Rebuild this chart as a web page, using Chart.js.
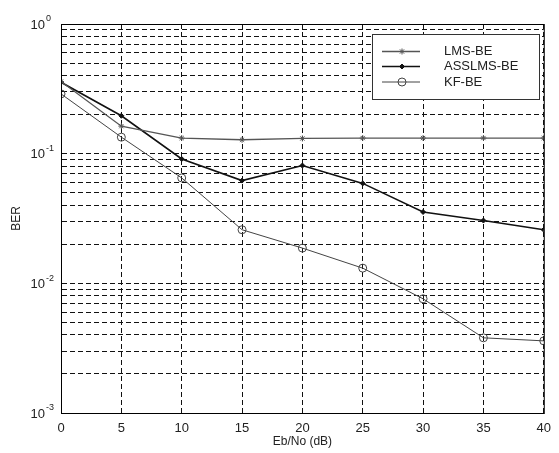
<!DOCTYPE html>
<html>
<head>
<meta charset="utf-8">
<script src="https://cdn.jsdelivr.net/npm/chart.js@4"></script>
<style>
  html, body { margin: 0; padding: 0; background: #fff; }
  #wrap { width: 559px; height: 453px; }
</style>
</head>
<body>
<div id="wrap"><canvas id="grafico"></canvas></div>
<script>
const ebNo = [0, 5, 10, 15, 20, 25, 30, 35, 40];
const lmsBe = [0.36, 0.163, 0.132, 0.128, 0.131, 0.132, 0.132, 0.132, 0.132];
const asslmsBe = [0.355, 0.196, 0.091, 0.062, 0.081, 0.059, 0.0355, 0.0305, 0.0259];
const kfBe = [0.289, 0.134, 0.065, 0.0259, 0.0187, 0.0131, 0.0076, 0.0038, 0.0036];
const nombres = ['LMS-BE', 'ASSLMS-BE', 'KF-BE'];
const xTicks = [0, 5, 10, 15, 20, 25, 30, 35, 40];
const decadas = [-3, -2, -1, 0];

const fuente = '"Liberation Sans", Arial, sans-serif';

// ticks del eje y: 1..9 por cada decada
const yTicks = [];
decadas.forEach(d => {
  if (d === 0) { yTicks.push(1); return; }
  for (let m = 1; m <= 9; m++) yTicks.push(m * Math.pow(10, d));
});

const toPts = (arr) => arr.map((v, i) => ({ x: ebNo[i], y: v }));

const cajaPlugin = {
  id: 'caja',
  afterDraw(chart) {
    const { ctx, chartArea: a } = chart;
    ctx.save();
    ctx.strokeStyle = '#000';
    ctx.lineWidth = 1;
    ctx.strokeRect(a.left + 0.5, a.top + 0.5, a.right - a.left, a.bottom - a.top);

    // etiquetas 10^n del eje y
    const ys = chart.scales.y;
    ctx.fillStyle = '#222';
    ctx.textBaseline = 'middle';
    decadas.forEach(d => {
      const py = ys.getPixelForValue(Math.pow(10, d));
      const exp = d === 0 ? '0' : String(d);
      ctx.font = '9px ' + fuente;
      ctx.textAlign = 'left';
      const expX = 46;
      ctx.fillText(exp, expX, py - 5);
      ctx.font = '13px ' + fuente;
      ctx.textAlign = 'right';
      ctx.fillText('10', expX - 1, py + 1);
    });

    // leyenda
    const lx = 372, ly = 34, lw = 167, lh = 65;
    ctx.fillStyle = '#fff';
    ctx.fillRect(lx, ly, lw, lh);
    ctx.strokeStyle = '#333';
    ctx.strokeRect(lx + 0.5, ly + 0.5, lw, lh);
    const filas = [51.5, 66.5, 82];
    chart.data.datasets.forEach((ds, i) => {
      const y = filas[i];
      ctx.strokeStyle = ds.borderColor;
      ctx.fillStyle = ds.backgroundColor;
      ctx.lineWidth = ds.borderWidth;
      ctx.setLineDash([]);
      ctx.beginPath();
      ctx.moveTo(382, y);
      ctx.lineTo(420, y);
      ctx.stroke();
      ctx.lineWidth = 1;
      Chart.helpers.drawPoint(ctx, {
        pointStyle: ds.pointStyle,
        radius: ds.pointRadius,
        borderWidth: 1,
        rotation: 0
      }, 402, y);
      ctx.fillStyle = '#222';
      ctx.font = '13px ' + fuente;
      ctx.textAlign = 'left';
      ctx.textBaseline = 'middle';
      ctx.fillText(ds.label, 444, y);
    });
    ctx.restore();
  }
};

new Chart(document.getElementById('grafico'), {
  type: 'line',
  data: {
    datasets: [
      {
        label: nombres[0],
        data: toPts(lmsBe),
        borderColor: '#555',
        backgroundColor: '#555',
        borderWidth: 1.3,
        pointStyle: 'star',
        pointRadius: 3,
        pointBorderWidth: 1
      },
      {
        label: nombres[1],
        data: toPts(asslmsBe),
        borderColor: '#111',
        backgroundColor: '#111',
        borderWidth: 1.6,
        pointStyle: 'rectRot',
        pointRadius: 2.5,
        pointBorderWidth: 1
      },
      {
        label: nombres[2],
        data: toPts(kfBe),
        borderColor: '#444',
        backgroundColor: 'rgba(0,0,0,0)',
        borderWidth: 1,
        pointStyle: 'circle',
        pointRadius: 4,
        pointBorderWidth: 1
      }
    ]
  },
  options: {
    responsive: true,
    maintainAspectRatio: false,
    animation: false,
    layout: { padding: { top: 24, right: 9, left: 9, bottom: 0 } },
    plugins: { legend: { display: false }, tooltip: { enabled: false } },
    scales: {
      x: {
        type: 'linear',
        min: 0,
        max: 40,
        afterBuildTicks: s => { s.ticks = xTicks.map(v => ({ value: v })); },
        afterFit: s => { s.height = 40; },
        grid: { color: '#111', lineWidth: 1, drawTicks: false },
        border: { display: true, color: '#333', dash: [5, 3] },
        ticks: { color: '#222', padding: 8, font: { family: fuente, size: 13 } },
        title: { display: true, text: 'Eb/No (dB)', color: '#222', padding: { top: 0, bottom: 4 }, font: { family: fuente, size: 12 } }
      },
      y: {
        type: 'logarithmic',
        min: 0.001,
        max: 1,
        afterBuildTicks: s => { s.ticks = yTicks.map(v => ({ value: v })); },
        afterFit: s => { s.width = 52; },
        grid: { color: '#111', lineWidth: 1, drawTicks: false },
        border: { display: true, color: '#333', dash: [5, 3] },
        ticks: { display: true, autoSkip: false, callback: () => '' },
        title: { display: true, text: 'BER', color: '#222', padding: { top: 0, bottom: 0 }, font: { family: fuente, size: 12 } }
      }
    }
  },
  plugins: [cajaPlugin]
});
</script>
</body>
</html>
